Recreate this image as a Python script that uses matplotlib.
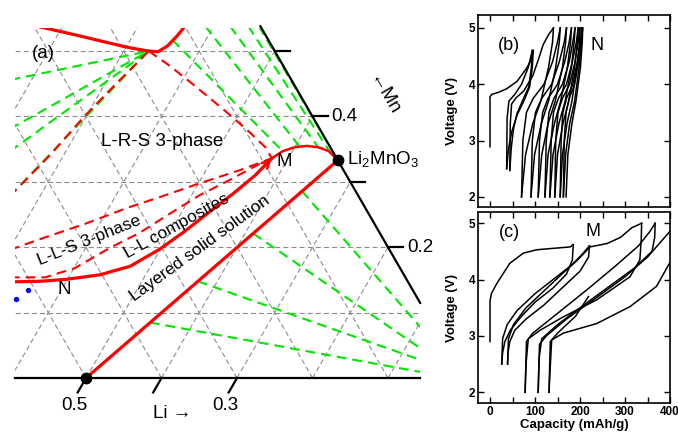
import numpy as np
import matplotlib.pyplot as plt
from matplotlib.patches import Polygon
from matplotlib.ticker import MultipleLocator

plt.rcParams['font.family'] = ['Liberation Sans', 'DejaVu Sans']
plt.rcParams['mathtext.fontset'] = 'custom'
plt.rcParams['mathtext.rm'] = 'Liberation Sans'

# ---------------- (a) phase diagram, points as (Li, Mn) cation fractions ----
li2mno3 = (0.667, 0.333)
li_half = (0.5, 0.0)
point_m = (0.578, 0.336)
kink = (0.333, 0.5)

# layered solid solution boundary (straight)
ss_li = [0.5, 0.667]
ss_mn = [0.0, 0.333]

# lower L-L composite boundary, through N up to M
ll_low_li = [0.326, 0.365, 0.399, 0.440, 0.473, 0.499, 0.519, 0.537, 0.555, 0.569, 0.578]
ll_low_mn = [0.147, 0.148, 0.151, 0.158, 0.171, 0.197, 0.225, 0.255, 0.284, 0.310, 0.336]

# dome from M to Li2MnO3
dome_li = [0.578, 0.587, 0.600, 0.615, 0.631, 0.648, 0.667]
dome_mn = [0.336, 0.347, 0.353, 0.355, 0.353, 0.347, 0.333]

# dashed boundaries
lls_up_li = [0.301, 0.336, 0.383, 0.424, 0.460, 0.502, 0.545, 0.578]
lls_up_mn = [0.196, 0.214, 0.237, 0.260, 0.277, 0.298, 0.318, 0.336]
ll_up_li = [0.322, 0.369, 0.401, 0.432, 0.460, 0.485, 0.511, 0.539, 0.562, 0.578]
ll_up_mn = [0.154, 0.154, 0.168, 0.199, 0.222, 0.251, 0.280, 0.303, 0.324, 0.336]
lrs_r_li = [0.333, 0.373, 0.411, 0.450, 0.490, 0.530, 0.561, 0.578]
lrs_r_mn = [0.500, 0.477, 0.453, 0.428, 0.402, 0.375, 0.353, 0.336]
lrs_l_li = [0.260, 0.282, 0.297, 0.314, 0.333]
lrs_l_mn = [0.278, 0.341, 0.398, 0.448, 0.500]

# solid boundary at the top
top_li = [0.171, 0.231, 0.276, 0.306, 0.333, 0.346, 0.354, 0.359, 0.362]
top_mn = [0.537, 0.523, 0.512, 0.505, 0.500, 0.499, 0.508, 0.523, 0.538]

# green tie lines
tie_tl_li = [0.172, 0.209, 0.226, 0.260]
tie_tl_mn = [0.456, 0.381, 0.347, 0.278]
tie_tr_li0 = [0.356, 0.389, 0.422, 0.446, 0.460]
tie_tr_mn0 = [0.517, 0.538, 0.538, 0.538, 0.538]
tie_tr_li1 = [0.587, 0.607, 0.631, 0.650, 0.667]
tie_tr_mn1 = [0.347, 0.353, 0.353, 0.346, 0.333]
tie_b_li0 = [0.643, 0.611, 0.574, 0.542]
tie_b_mn0 = [0.286, 0.221, 0.148, 0.085]
tie_b_li1 = [0.915, 0.928, 0.937, 0.945]
tie_b_mn1 = [0.069, 0.041, 0.025, 0.008]

blue_li = [0.356, 0.347]
blue_mn = [0.135, 0.121]

mn_ticks = [0.5, 0.4, 0.3, 0.2]
mn_labels = ['', '0.4', '', '0.2']
li_ticks = [0.5, 0.6, 0.7]
li_labels = ['0.5', '', '0.3']

# ---------------- (b) and (c) voltage profiles ----------------
b_loop_cap = [[0, 0, 4, 20, 37, 60, 80, 93, 96],
              [96, 94, 88, 75, 60, 48, 41, 37],
              [37, 38, 42, 55, 70, 85, 94],
              [94, 92, 86, 73, 60, 52, 47, 44],
              [44, 45, 48, 58, 75, 95, 108, 118, 130, 141]]
b_loop_v = [[2.89, 3.78, 3.82, 3.86, 3.92, 4.05, 4.27, 4.45, 4.60],
            [4.60, 4.30, 3.95, 3.70, 3.45, 3.15, 2.85, 2.50],
            [2.50, 3.40, 3.70, 3.82, 4.00, 4.30, 4.60],
            [4.60, 4.30, 3.95, 3.72, 3.48, 3.20, 2.85, 2.47],
            [2.47, 3.30, 3.65, 3.76, 3.88, 4.15, 4.45, 4.70, 4.88, 5.00]]
b_chg_v = [2.0, 3.0, 3.5, 3.75, 4.0, 4.4, 4.75, 5.0]
b_chg_cap = [[70, 73, 81, 96, 120, 139, 150, 156],
             [91, 94, 101, 115, 137, 154, 165, 170],
             [107, 110, 117, 129, 150, 166, 176, 181],
             [122, 125, 131, 142, 161, 176, 184, 189],
             [133, 136, 141, 152, 170, 183, 192, 196],
             [144, 146, 151, 161, 177, 189, 196, 200],
             [156, 158, 162, 170, 184, 194, 201, 204],
             [163, 165, 169, 176, 188, 197, 203, 206]]
b_dis_v = [5.0, 4.75, 4.3, 3.7, 3.3, 2.75, 2.0]
b_dis_cap = [[141, 139, 130, 113, 95, 79, 70],
             [156, 154, 146, 130, 114, 99, 91],
             [170, 168, 161, 145, 129, 115, 107],
             [181, 179, 172, 157, 143, 129, 122],
             [189, 187, 181, 167, 153, 140, 133],
             [196, 194, 188, 175, 162, 150, 144],
             [200, 199, 193, 182, 171, 161, 156],
             [204, 203, 198, 188, 177, 168, 163],
             [206, 205, 201, 191, 182, 173, 169]]

c_cap = [[0, 0, 3, 15, 44, 74, 104, 148, 178, 185],
         [185, 183, 170, 140, 100, 70, 45, 33, 28, 26],
         [26, 28, 38, 60, 100, 140, 180, 205, 221],
         [221, 219, 200, 160, 120, 80, 55, 44, 40, 39],
         [39, 41, 52, 80, 120, 160, 195, 222, 260, 290, 315, 337],
         [337, 336, 333, 311, 237, 163, 111, 85, 80, 78],
         [78, 81, 95, 150, 220, 280, 330, 355, 367],
         [367, 366, 360, 320, 260, 200, 150, 115, 109, 107],
         [107, 110, 125, 170, 240, 300, 350, 410],
         [410, 370, 311, 237, 163, 137, 131],
         [131, 134, 150, 190, 219]]
c_v = [[2.90, 3.62, 3.75, 3.93, 4.29, 4.47, 4.53, 4.56, 4.58, 4.62],
       [4.62, 4.35, 4.10, 3.85, 3.60, 3.35, 3.10, 2.90, 2.70, 2.50],
       [2.50, 2.95, 3.20, 3.45, 3.75, 4.00, 4.25, 4.45, 4.60],
       [4.60, 4.40, 4.15, 3.85, 3.55, 3.30, 3.10, 2.90, 2.70, 2.50],
       [2.50, 2.95, 3.20, 3.50, 3.80, 4.10, 4.35, 4.58, 4.64, 4.75, 4.92, 5.00],
       [5.00, 4.70, 4.35, 4.05, 3.64, 3.34, 3.10, 2.95, 2.50, 2.00],
       [2.00, 2.90, 3.05, 3.40, 3.85, 4.25, 4.60, 4.85, 5.00],
       [5.00, 4.75, 4.50, 4.20, 3.85, 3.50, 3.20, 2.95, 2.60, 2.00],
       [2.00, 2.85, 3.00, 3.30, 3.70, 4.05, 4.40, 4.95],
       [4.45, 3.88, 3.52, 3.22, 3.05, 2.93, 2.00],
       [2.00, 2.90, 3.05, 3.35, 3.70]]

cap_ticks = [0, 100, 200, 300, 400]
v_ticks = [2, 3, 4, 5]

# ---------------------------------------------------------------------------
W, H = 678, 433
fig = plt.figure(figsize=(W / 100, H / 100), dpi=100)


def fpos(x, y):
    return x / W, 1 - y / H


S3 = np.sqrt(3) / 2


def tern(li, mn):
    li = np.asarray(li, float)
    mn = np.asarray(mn, float)
    return li + mn / 2, mn * S3


ax = fig.add_axes([0, 0, 430 / W, 1])
ax.set_xlim(0.3861, 0.9556)
ax.set_ylim(-0.0728, 0.5007)
ax.axis('off')

# visible window: panel borders and the Ni = 0 edge
x_left, x_right, y_top = 0.406, 0.9424, 0.4636
clip = Polygon([(x_left, 0), (x_left, y_top), (1 - y_top / S3 / 2, y_top),
                (x_right, 2 * (1 - x_right) * S3), (x_right, 0)],
               closed=True, transform=ax.transData)


def draw(li, mn, **kw):
    x, y = tern(li, mn)
    line, = ax.plot(x, y, **kw)
    line.set_clip_path(clip)
    return line


# triangular grid
grid_kw = dict(color='#8c8c8c', lw=0.8, ls=(0, (4.5, 2.8)), zorder=1)
for v in np.arange(0.0, 1.01, 0.1):
    draw([v, v], [0, 0.6], **grid_kw)
    draw([1 - v, 0.4 - v], [0, 0.6], **grid_kw)
for m in np.arange(0.1, 0.55, 0.1):
    draw([0, 1 - m], [m, m], **grid_kw)

green = dict(color='#00e600', lw=1.5, ls=(0, (4.7, 2.9)), zorder=2)
for li0, mn0 in zip(tie_tl_li, tie_tl_mn):
    draw([li0, kink[0]], [mn0, kink[1]], **green)
for li0, mn0, li1, mn1 in zip(tie_tr_li0, tie_tr_mn0, tie_tr_li1, tie_tr_mn1):
    draw([li0, li1], [mn0, mn1], **green)
for li0, mn0, li1, mn1 in zip(tie_b_li0, tie_b_mn0, tie_b_li1, tie_b_mn1):
    draw([li0, li1], [mn0, mn1], **green)

red_dash = dict(color='red', lw=1.5, ls=(0, (4.7, 2.9)), zorder=3)
draw(lls_up_li, lls_up_mn, **red_dash)
draw(ll_up_li, ll_up_mn, **red_dash)
draw(lrs_r_li, lrs_r_mn, **red_dash)
draw(lrs_l_li, lrs_l_mn, **red_dash)

draw(ss_li, ss_mn, color='red', lw=2.3, zorder=4, solid_capstyle='round')
draw(ll_low_li, ll_low_mn, color='red', lw=2.3, zorder=4)
draw(dome_li, dome_mn, color='red', lw=1.8, zorder=4)
draw(top_li, top_mn, color='red', lw=2.3, zorder=4)
x0, y0 = tern(ll_low_li[-2], ll_low_mn[-2])
x1, y1 = tern(*point_m)
ax.annotate('', xy=(float(x1), float(y1)), xytext=(float(x0), float(y0)),
            arrowprops=dict(arrowstyle='->', color='red', lw=1.8,
                            mutation_scale=14, shrinkA=0, shrinkB=0), zorder=4)

# frame: base line and Ni = 0 edge
ax.plot([x_left, x_right], [0, 0], color='k', lw=1.6, zorder=5)
ex, ey = tern([1 - 0.538, 1 - 0.115], [0.538, 0.115])
ax.plot(ex, ey, color='k', lw=1.6, zorder=5)
for m, lab in zip(mn_ticks, mn_labels):
    tx, ty = tern(1 - m, m)
    ax.plot([tx, tx + 0.02], [ty, ty], color='k', lw=1.6, zorder=5)
    if lab:
        ax.text(tx + 0.025, ty, lab, fontsize=13.5, ha='left', va='center')
for l, lab in zip(li_ticks, li_labels):
    tx, ty = tern([l, l], [0, -0.022])
    ax.plot(tx, ty, color='k', lw=1.6, zorder=5)
    if lab:
        ax.text(tx[1] - 0.004, -0.036, lab, fontsize=13.5, ha='center', va='center')

px_, py_ = tern([li2mno3[0], li_half[0]], [li2mno3[1], li_half[1]])
ax.plot(px_, py_, 'o', color='k', ms=7.5, zorder=6, clip_on=False)
bx, by = tern(blue_li, blue_mn)
ax.plot(bx, by, 'o', color='blue', ms=2.8, zorder=6)

txt = dict(fontsize=13.5, ha='center', va='center')
rot = dict(fontsize=12.5, ha='center', va='center', rotation_mode='anchor')
fig.text(*fpos(43, 53), '(a)', **txt)
fig.text(*fpos(162, 142), 'L-R-S 3-phase', **txt)
fig.text(*fpos(284, 161), 'M', **txt)
fig.text(*fpos(64, 289), 'N', **txt)
fig.text(*fpos(89, 240), 'L-L-S 3-phase', rotation=22, **rot)
fig.text(*fpos(177, 226), 'L-L composites', rotation=29, **rot)
fig.text(*fpos(200, 248), 'Layered solid solution', rotation=36, **rot)
fig.text(*fpos(347, 160), r'Li$_\mathregular{2}$MnO$_\mathregular{3}$',
         fontsize=13.5, ha='left', va='center')
fig.text(*fpos(172, 414), 'Li \u2192', **txt)
fig.text(*fpos(383, 95), '\u2190Mn', rotation=-60, rotation_mode='anchor', **txt)

# ---------------- (b) and (c) ----------------
axb = fig.add_axes([478 / W, 1 - 207 / H, 192 / W, 192 / H])
axc = fig.add_axes([478 / W, 1 - 403 / H, 192 / W, 191 / H])
for a in (axb, axc):
    a.set_xlim(-26.7, 400)
    a.xaxis.set_minor_locator(MultipleLocator(50))
    a.set_xticks(cap_ticks)
    a.set_yticks(v_ticks)
    a.set_yticklabels([str(v) for v in v_ticks], fontweight='bold', fontsize=8.5)
    a.tick_params(which='both', direction='in', top=True, right=True,
                  length=4, width=1, pad=2)
    for s in a.spines.values():
        s.set_linewidth(1.2)
    a.set_ylabel('Voltage (V)', fontsize=9.5, fontweight='bold')
    a.yaxis.set_label_coords(-0.105, 0.5)
axb.set_ylim(1.82, 5.23)
axc.set_ylim(1.81, 5.2)
axb.tick_params(labelbottom=False)
axc.set_xticklabels([str(c) for c in cap_ticks], fontweight='bold', fontsize=8.5)
axc.set_xlabel('Capacity (mAh/g)', fontsize=9.5, fontweight='bold', labelpad=1)

for cap, v in zip(b_loop_cap, b_loop_v):
    axb.plot(cap, v, color='k', lw=1.1)
for cap in b_chg_cap:
    axb.plot(cap, b_chg_v, color='k', lw=1.1)
for cap in b_dis_cap:
    axb.plot(cap, b_dis_v, color='k', lw=1.1)
for cap, v in zip(c_cap, c_v):
    axc.plot(cap, v, color='k', lw=1.1)

fig.text(*fpos(509, 46), '(b)', fontsize=13, ha='center', va='center')
fig.text(*fpos(597, 45), 'N', fontsize=13, ha='center', va='center')
fig.text(*fpos(509, 233), '(c)', fontsize=13, ha='center', va='center')
fig.text(*fpos(593, 232), 'M', fontsize=13, ha='center', va='center')

fig.savefig('out.png', dpi=100)
